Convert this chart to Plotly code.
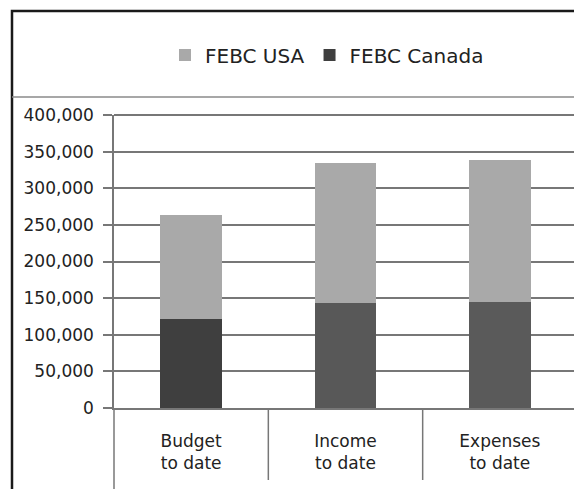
import plotly.graph_objects as go

categories = ["Budget<br>to date", "Income<br>to date", "Expenses<br>to date"]
febc_canada = [121000, 143000, 145000]
febc_usa_total = [264000, 334000, 339000]
febc_usa = [t - c for t, c in zip(febc_usa_total, febc_canada)]
y_ticks = [0, 50000, 100000, 150000, 200000, 250000, 300000, 350000, 400000]

canada_colors = ["#3f3f3f", "#585858", "#5a5a5a"]
usa_color = "#a9a9a9"
grid = "#777777"

OFF = 8  # page body margin
W, H = 582, 489
L, R, T, B = 114 - OFF, 577 - OFF, 115 - OFF, 408 - OFF
pw, ph = R - L, B - T


def px(x):
    return (x - OFF - L) / pw


def py(y):
    return (B - (y - OFF)) / ph


fig = go.Figure()
fig.add_trace(go.Bar(x=categories, y=febc_canada, name="FEBC Canada",
                     marker=dict(color=canada_colors, line=dict(width=0))))
fig.add_trace(go.Bar(x=categories, y=febc_usa, name="FEBC USA",
                     marker=dict(color=usa_color, line=dict(width=0))))

shapes = []
# outer frame (left, top, right)
shapes.append(dict(type="path", xref="paper", yref="paper",
                   path=f"M {px(12)} {py(500)} L {px(12)} {py(11)} L {px(579)} {py(11)} L {px(579)} {py(500)}",
                   line=dict(color="#1a1a1a", width=2.5)))
# separator under legend
shapes.append(dict(type="line", xref="paper", yref="paper",
                   x0=px(12), x1=px(579), y0=py(97), y1=py(97),
                   line=dict(color="#8a8a8a", width=1.5)))
# top gridline
shapes.append(dict(type="line", xref="paper", yref="paper",
                   x0=0, x1=1, y0=1, y1=1, line=dict(color=grid, width=1.8)))
# category table lines
shapes.append(dict(type="line", xref="paper", yref="paper",
                   x0=0, x1=0, y0=0, y1=py(500), line=dict(color=grid, width=1.5)))
shapes.append(dict(type="line", xref="paper", yref="paper",
                   x0=px(575), x1=px(575), y0=0, y1=py(500), line=dict(color=grid, width=1.5)))
for b in [0.5, 1.5]:
    shapes.append(dict(type="line", xref="x", yref="paper",
                       x0=b, x1=b, y0=0, y1=py(480), line=dict(color=grid, width=1.5)))

fig.update_layout(
    width=W, height=H,
    margin=dict(l=L, r=W - R, t=T, b=H - B),
    paper_bgcolor="white", plot_bgcolor="white",
    barmode="stack", bargap=0.6,
    font=dict(family="DejaVu Sans", color="#222222", size=16),
    showlegend=True,
    legend=dict(orientation="h", traceorder="reversed",
                x=px(165), xanchor="left", y=py(55), yanchor="middle",
                font=dict(size=20, color="#222222"),
                bgcolor="rgba(0,0,0,0)"),
    shapes=shapes,
    xaxis=dict(type="category", range=[-0.5, 2.5], showgrid=False,
               showline=True, linecolor=grid, linewidth=1.8,
               ticks="", ticklabelstandoff=17,
               tickfont=dict(size=17, color="#222222")),
    yaxis=dict(range=[0, 400000], tickvals=y_ticks, tickformat=",",
               showgrid=True, gridcolor=grid, gridwidth=1.8,
               showline=True, linecolor=grid, linewidth=1.5,
               ticks="outside", ticklen=9, tickcolor=grid, tickwidth=1.8,
               ticklabelstandoff=6, zeroline=False,
               tickfont=dict(size=17, color="#222222")),
)

fig.write_html("out.html")
